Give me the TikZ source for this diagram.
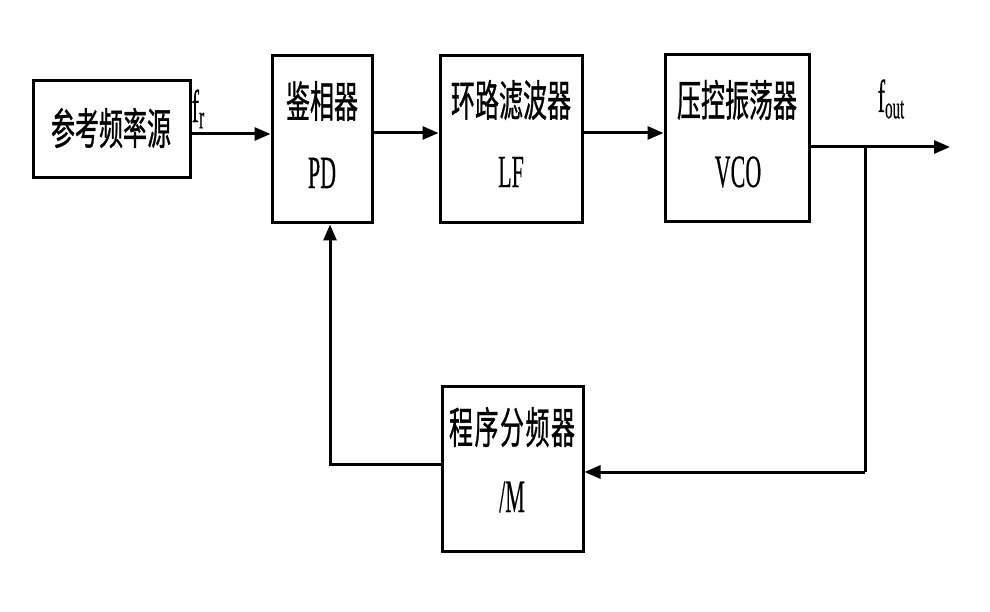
\documentclass[tikz,border=0pt]{standalone}
\usepackage{fontspec}
\setmainfont[FakeBold=0.5]{Liberation Serif}
\newfontfamily\cjk[FakeBold=1]{Noto Sans CJK SC}
\usetikzlibrary{arrows.meta}
\tikzset{
  blk/.style={draw, line width=3pt, inner sep=0pt},
  wire/.style={line width=3pt},
  arr/.style={wire, -{Triangle[length=16pt,width=13pt]}},
  cn/.style={inner sep=0pt, font=\cjk\fontsize{24}{24}\selectfont},
  lt/.style={inner sep=0pt, font=\fontsize{22}{22}\selectfont},
}
\newcommand{\tallc}[1]{\scalebox{1}[1.8]{#1}}
\newcommand{\tallL}[1]{\scalebox{1}[2.1]{#1}}
\begin{document}
\begin{tikzpicture}[x=1pt,y=-1pt]
\path[use as bounding box, fill=white] (0,0) rectangle (990,612);
% boxes
\node[blk, minimum width=157pt, minimum height=97pt] (ref) at (111.5,129.5) {};
\node[blk, minimum width=100pt, minimum height=167pt] (pd) at (322,139.5) {};
\node[blk, minimum width=142pt, minimum height=167pt] (lf) at (511,139.5) {};
\node[blk, minimum width=144pt, minimum height=167pt] (vco) at (737,138.5) {};
\node[blk, minimum width=141pt, minimum height=165pt] (div) at (512.5,468.5) {};
% texts
\node[cn] (reft) at (111,128) {\tallc{参考频率源}};
\node[cn] (pdt) at (322,101) {\tallc{鉴相器}};
\node[lt] (pdl) at (322,173) {\tallL{PD}};
\node[cn] (lft) at (511,100) {\tallc{环路滤波器}};
\node[lt] (lfl) at (511,172) {\tallL{LF}};
\node[cn] (vcot) at (737,100) {\tallc{压控振荡器}};
\node[lt] (vcol) at (738,172) {\tallL{VCO}};
\node[cn] (divt) at (512,427) {\tallc{程\hspace{1.5pt}序\hspace{1.5pt}分\hspace{1.5pt}频\hspace{1.5pt}器}};
\node[lt] (divl) at (512,497) {\tallL{/M}};
% signal labels
\node[lt] (fr) at (198,109) {\tallL{f\raisebox{-3pt}{\fontsize{16}{16}\selectfont r}}};
\node[lt] (fout) at (891,99) {\tallL{f\raisebox{-3pt}{\fontsize{15}{15}\selectfont out}}};
% coordinates
\coordinate (out) at (950,147);
\coordinate (br) at (865,147);
\coordinate (bc) at (865,472);
% connectors
\draw[arr] ([yshift=-4.5pt]ref.east) -- ([yshift=-4.5pt]ref.east -| pd.west);
\draw[arr] ([yshift=6.5pt]pd.east) -- ([yshift=6.5pt]pd.east -| lf.west);
\draw[arr] ([yshift=6.5pt]lf.east) -- ([yshift=6.5pt]lf.east -| vco.west);
\draw[arr] ([yshift=-8.5pt]vco.east) -- (out);
\draw[wire] (br) -- (bc);
\draw[arr] (bc) -- (bc -| div.east);
\draw[arr] ([yshift=4pt]div.west) -| ([xshift=8pt]pd.south);
\end{tikzpicture}
\end{document}
